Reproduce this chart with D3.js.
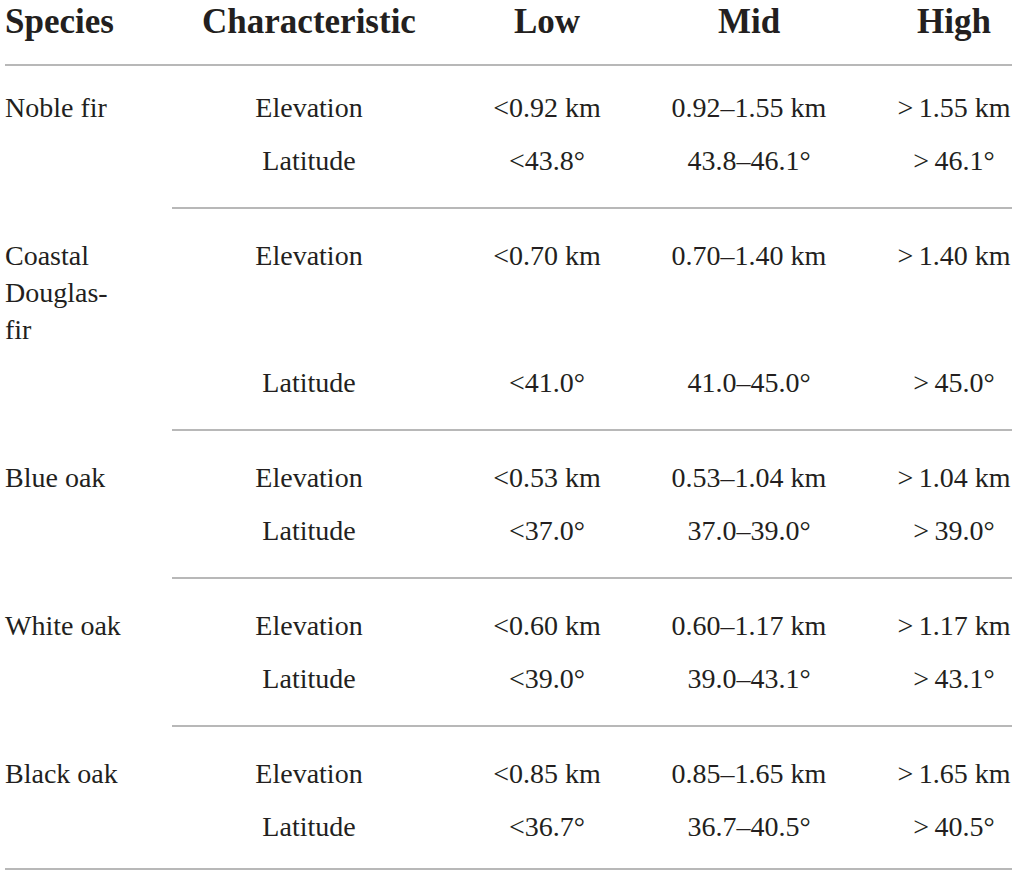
<!DOCTYPE html>
<html>
<head>
<meta charset="utf-8">
<script src="https://cdn.jsdelivr.net/npm/d3@7"></script>
<style>
  html, body { margin: 0; padding: 0; background: #fff; }
  svg { display: block; }
</style>
</head>
<body>
<svg id="chart" width="1017" height="872"></svg>
<script>
// table content
const headers = ['Species', 'Characteristic', 'Low', 'Mid', 'High']
// species names, as they wrap in the narrow first column
const species = [['Noble fir'], ['Coastal', 'Douglas-', 'fir'], ['Blue oak'], ['White oak'], ['Black oak']]
const characteristics = ['Elevation', 'Latitude']
const lowVals = [
  ['<0.92 km', '<43.8°'],
  ['<0.70 km', '<41.0°'],
  ['<0.53 km', '<37.0°'],
  ['<0.60 km', '<39.0°'],
  ['<0.85 km', '<36.7°']
]
const midVals = [
  ['0.92–1.55 km', '43.8–46.1°'],
  ['0.70–1.40 km', '41.0–45.0°'],
  ['0.53–1.04 km', '37.0–39.0°'],
  ['0.60–1.17 km', '39.0–43.1°'],
  ['0.85–1.65 km', '36.7–40.5°']
]
const highVals = [
  ['>\u20091.55 km', '>\u200946.1°'],
  ['>\u20091.40 km', '>\u200945.0°'],
  ['>\u20091.04 km', '>\u200939.0°'],
  ['>\u20091.17 km', '>\u200943.1°'],
  ['>\u20091.65 km', '>\u200940.5°']
]

function makeTable() {
  const svg = d3.select('#chart')
  const textColor = '#231f20'
  const ruleColor = '#a0a0a0'
  const font = '"Liberation Serif", "DejaVu Serif", serif'

  // column centres (species column is left aligned)
  const xCol = d3.scaleOrdinal()
    .domain(headers)
    .range([5, 309, 547, 749, 954])

  // header
  svg.append('g').selectAll('text')
    .data(headers)
    .join('text')
    .attr('x', d => xCol(d))
    .attr('y', 33)
    .attr('text-anchor', (d, i) => i === 0 ? 'start' : 'middle')
    .attr('font-family', font)
    .attr('font-weight', 'bold')
    .attr('font-size', 35)
    .attr('fill', textColor)
    .text(d => d)

  svg.append('line')
    .attr('x1', 5).attr('x2', 1012)
    .attr('y1', 65).attr('y2', 65)
    .attr('stroke', ruleColor).attr('stroke-width', 1.5)

  // working out where each group sits
  const lineStep = 37
  let y = 65
  const groups = species.map((names, i) => {
    y += i === 0 ? 52 : 57
    const top = y
    const latY = Math.max(top + (i === 0 ? 53 : 52), top + (names.length - 1) * lineStep + 53)
    const bottom = latY + (i === species.length - 1 ? 33 : 38)
    y = bottom
    return { names, top, latY, bottom, i }
  })

  const body = svg.append('g')
    .attr('font-family', font)
    .attr('font-size', 28)
    .attr('fill', textColor)

  groups.forEach(g => {
    // species name lines
    body.append('g').selectAll('text')
      .data(g.names)
      .join('text')
      .attr('x', xCol('Species'))
      .attr('y', (d, k) => g.top + k * lineStep)
      .text(d => d)

    const rows = characteristics.map((c, r) => ({
      y: r === 0 ? g.top : g.latY,
      cells: [c, lowVals[g.i][r], midVals[g.i][r], highVals[g.i][r]]
    }))

    rows.forEach(row => {
      body.append('g').selectAll('text')
        .data(row.cells)
        .join('text')
        .attr('x', (d, k) => xCol(headers[k + 1]))
        .attr('y', row.y)
        .attr('text-anchor', 'middle')
        .text(d => d)
    })

    // rule under the group (full width for the last one)
    const last = g.i === species.length - 1
    svg.append('line')
      .attr('x1', last ? 5 : 172).attr('x2', 1012)
      .attr('y1', g.bottom).attr('y2', g.bottom)
      .attr('stroke', ruleColor).attr('stroke-width', 1.5)
  })
}

window.onload = makeTable
</script>
</body>
</html>
